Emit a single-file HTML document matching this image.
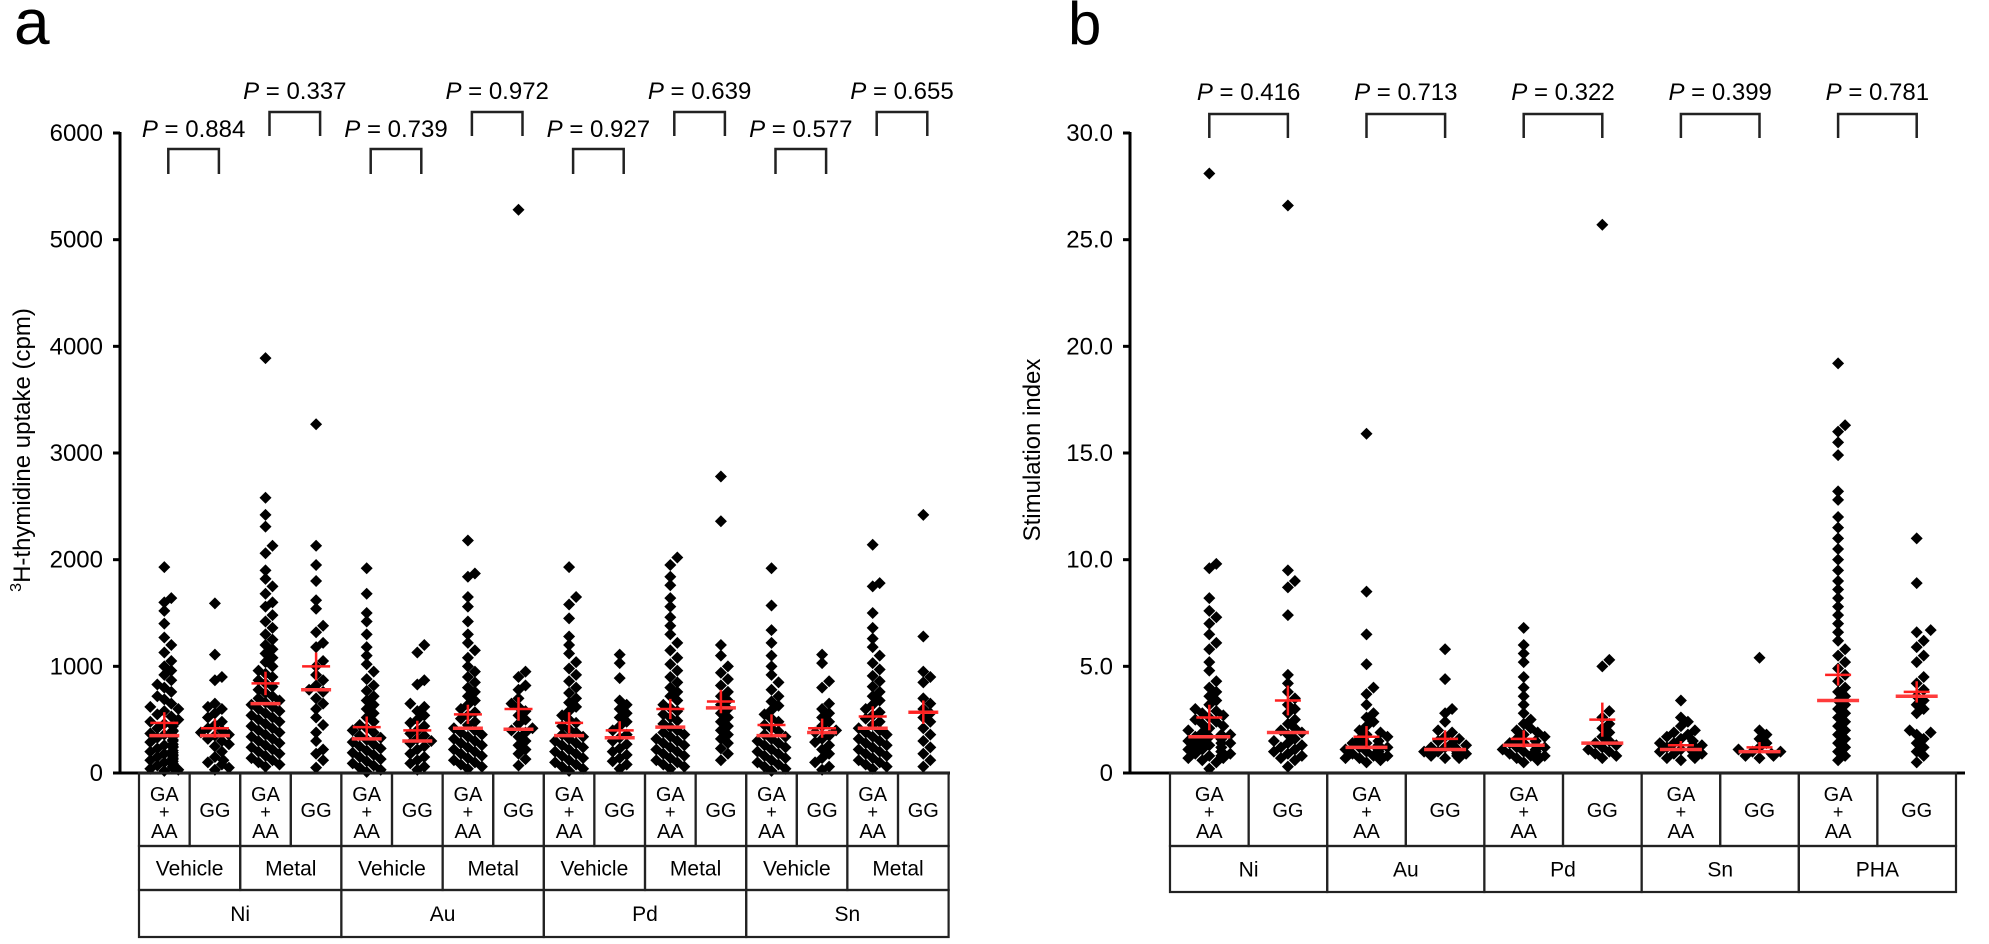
<!DOCTYPE html>
<html><head><meta charset="utf-8">
<style>
html,body{margin:0;padding:0;background:#fff;}
svg text{font-family:"Liberation Sans",Arial,sans-serif;fill:#000;}
</style></head>
<body>
<svg id="fig" width="1989" height="939" viewBox="0 0 1989 939" xmlns="http://www.w3.org/2000/svg">
<text x="14" y="44" font-size="64">a</text>
<text x="1068" y="44" font-size="60">b</text>
<g id="pa"></g>
<g id="pb"></g>
</svg>
<script>
// ---------- Panel a data ----------
const aTicks = [0,1000,2000,3000,4000,5000,6000];
const aGenotypes = ["GA+AA","GG","GA+AA","GG","GA+AA","GG","GA+AA","GG","GA+AA","GG","GA+AA","GG","GA+AA","GG","GA+AA","GG"];
const aTreatments = ["Vehicle","Metal","Vehicle","Metal","Vehicle","Metal","Vehicle","Metal"];
const aMetals = ["Ni","Au","Pd","Sn"];
const aPvalues = ["0.884","0.337","0.739","0.972","0.927","0.639","0.577","0.655"];
const aMeans = [470,420,840,1000,430,400,550,600,470,400,600,670,450,420,530,570];
const aSem = [100,90,110,130,100,90,90,110,100,85,95,110,100,90,95,110];
const aMedians = [350,350,650,780,320,300,420,410,350,330,430,610,350,380,420,570];
const aValues = [
[1930,1640,1600,1520,1400,1270,1200,1130,1050,1000,960,920,870,830,800,760,720,690,650,620,600,580,550,530,500,480,460,440,420,400,390,370,360,350,340,330,310,300,290,270,260,250,240,230,210,200,190,180,170,160,150,140,130,120,110,100,90,80,70,60,50,40,30,20],
[1590,1110,900,870,650,620,600,560,520,480,450,420,400,380,360,350,320,300,270,250,200,150,120,100,80,50,30],
[3890,2580,2420,2310,2130,2060,1900,1820,1750,1680,1600,1560,1480,1420,1360,1300,1250,1200,1160,1120,1080,1040,1000,960,930,900,870,840,810,780,750,720,700,680,660,640,620,600,580,560,540,520,500,480,460,440,420,400,380,360,340,320,300,280,260,240,220,200,180,160,140,120,100,80,60],
[3270,2130,1950,1800,1620,1540,1380,1320,1220,1180,1050,1000,920,870,820,780,760,700,650,600,520,450,380,300,220,180,120,50],
[1920,1680,1500,1420,1300,1180,1100,1020,950,880,820,770,720,680,640,600,560,520,480,450,420,400,380,350,330,310,290,270,250,230,210,190,170,150,130,110,90,70,50,30,10],
[1200,1130,870,830,650,620,580,540,500,470,440,400,370,350,320,300,280,250,220,180,150,120,90,60,30],
[2180,1870,1840,1650,1560,1420,1300,1220,1150,1080,1000,950,900,850,800,760,720,680,640,600,570,540,510,480,450,420,400,380,360,340,320,300,280,260,240,220,200,180,160,140,120,100,80,60,40],
[5280,950,900,820,780,700,650,620,580,540,500,460,420,400,380,340,300,260,220,180,130,70],
[1930,1650,1580,1450,1280,1200,1120,1040,980,920,860,800,750,700,660,620,580,540,500,470,440,410,380,360,340,320,300,280,260,240,220,200,180,160,140,120,100,80,60,40,20],
[1110,1030,890,680,640,600,560,520,480,440,400,360,330,300,270,230,200,170,140,110,80,40],
[2020,1950,1840,1760,1640,1560,1460,1380,1300,1220,1150,1080,1020,960,900,850,800,760,720,680,640,610,580,550,520,490,460,430,400,380,360,340,320,300,280,260,240,220,200,180,160,140,120,100,80,60,40],
[2780,2360,1200,1100,1000,940,880,820,760,720,680,640,600,560,520,480,440,400,360,320,280,230,180,120],
[1920,1570,1340,1220,1100,1000,920,850,780,720,670,630,590,550,510,480,450,420,390,360,340,320,300,280,260,240,220,200,180,160,140,120,100,80,60,40,20],
[1110,1030,860,800,650,600,560,520,480,440,400,380,350,320,290,260,220,180,140,100,60,30],
[2140,1780,1750,1500,1360,1260,1180,1100,1030,970,910,860,810,760,720,680,640,600,570,540,510,480,450,420,400,380,360,340,320,300,280,260,240,220,200,180,160,140,120,100,80,60,40],
[2420,1280,950,900,850,700,650,600,560,520,480,420,360,300,240,180,120,60]
];
// ---------- Panel b data ----------
const bTicks = [0,5,10,15,20,25,30];
const bGenotypes = ["GA+AA","GG","GA+AA","GG","GA+AA","GG","GA+AA","GG","GA+AA","GG"];
const bStimuli = ["Ni","Au","Pd","Sn","PHA"];
const bPvalues = ["0.416","0.713","0.322","0.399","0.781"];
const bMeans = [2.6,3.4,1.7,1.6,1.6,2.5,1.3,1.2,4.6,3.8];
const bSem = [0.6,0.7,0.5,0.4,0.4,0.8,0.2,0.25,0.5,0.5];
const bMedians = [1.7,1.9,1.2,1.1,1.3,1.4,1.1,1.0,3.4,3.6];
const bValues = [
[28.1,9.8,9.6,8.2,7.6,7.3,7.0,6.5,6.1,5.8,5.2,4.8,4.3,4.0,3.8,3.6,3.4,3.2,3.0,2.9,2.8,2.7,2.6,2.5,2.4,2.3,2.2,2.1,2.0,1.9,1.8,1.8,1.7,1.7,1.6,1.6,1.5,1.5,1.4,1.4,1.3,1.3,1.2,1.2,1.1,1.1,1.0,1.0,0.9,0.9,0.8,0.8,0.7,0.7,0.6,0.5,0.2],
[26.6,9.5,9.0,8.7,7.4,4.6,4.2,3.8,3.5,3.2,3.0,2.8,2.5,2.3,2.1,2.0,1.9,1.8,1.6,1.5,1.4,1.3,1.2,1.1,1.0,0.9,0.8,0.7,0.6,0.3],
[15.9,8.5,6.5,5.1,4.0,3.7,3.2,2.8,2.6,2.4,2.2,2.0,1.9,1.8,1.7,1.6,1.5,1.5,1.4,1.4,1.3,1.3,1.2,1.2,1.1,1.1,1.1,1.0,1.0,1.0,0.9,0.9,0.8,0.8,0.7,0.7,0.6,0.5],
[5.8,4.4,3.0,2.8,2.4,2.0,1.9,1.7,1.6,1.5,1.4,1.3,1.2,1.2,1.1,1.1,1.0,1.0,1.0,0.9,0.9,0.8,0.8,0.7,0.7],
[6.8,6.0,5.6,5.2,4.5,4.0,3.6,3.2,2.8,2.5,2.3,2.1,2.0,1.9,1.8,1.7,1.6,1.5,1.5,1.4,1.4,1.3,1.3,1.2,1.2,1.1,1.1,1.0,1.0,1.0,0.9,0.9,0.8,0.8,0.7,0.6,0.5],
[25.7,5.3,5.0,2.9,2.6,2.3,2.1,1.9,1.7,1.5,1.4,1.3,1.2,1.1,1.0,0.9,0.8,0.7],
[3.4,2.6,2.4,2.2,2.0,1.9,1.8,1.7,1.6,1.5,1.4,1.4,1.3,1.3,1.2,1.2,1.1,1.1,1.0,1.0,1.0,0.9,0.9,0.8,0.8,0.7,0.7,0.6],
[5.4,2.0,1.8,1.6,1.4,1.2,1.1,1.0,1.0,0.9,0.8,0.8,0.7],
[19.2,16.3,16.0,15.5,14.9,13.2,12.8,12.0,11.5,11.0,10.5,10.0,9.5,9.0,8.6,8.2,7.8,7.4,7.0,6.6,6.2,5.8,5.5,5.2,4.9,4.6,4.3,4.0,3.8,3.6,3.4,3.2,3.0,2.8,2.6,2.4,2.2,2.0,1.8,1.6,1.4,1.2,1.0,0.8,0.6],
[11.0,8.9,6.7,6.6,6.2,5.9,5.5,5.2,4.5,4.2,3.9,3.6,3.4,3.2,3.0,2.8,2.0,1.9,1.8,1.6,1.4,1.2,1.0,0.8,0.5]
];

const NS="http://www.w3.org/2000/svg";
function mk(parent,tag,attrs){const e=document.createElementNS(NS,tag);for(const k in attrs)e.setAttribute(k,attrs[k]);parent.appendChild(e);return e;}

function drawPanel(g,cfg){
  const y=v=>cfg.y0-(v-cfg.vmin)/(cfg.vmax-cfg.vmin)*(cfg.y0-cfg.y1);
  const colX=i=>cfg.tx+cfg.cw*(i+0.5);
  const ax=mk(g,'line',{x1:cfg.ax,y1:cfg.y1-1,x2:cfg.ax,y2:cfg.y0+1.5,stroke:'#000','stroke-width':3});
  
  
  const xa=mk(g,'line',{x1:cfg.ax,y1:cfg.y0,x2:cfg.xEnd,y2:cfg.y0,stroke:'#000','stroke-width':3});
  
  
  cfg.ticks.forEach(t=>{
    const tk=mk(g,'line',{x1:cfg.ax-7,y1:y(t),x2:cfg.ax,y2:y(t),stroke:'#000','stroke-width':3});
    
    
    const tl=mk(g,'text',{x:cfg.ax-17,y:y(t)+8,'font-size':24,'text-anchor':'end'});
    tl.textContent=cfg.fmt(t);
    
    
  });
  const yl=mk(g,'text',{x:0,y:0,'font-size':24,'text-anchor':'middle',transform:`translate(${cfg.ylx},${cfg.yly}) rotate(-90)`});
  yl.innerHTML=cfg.ylabel;
  
  
  cfg.values.forEach((vals,i)=>{
    const cx=colX(i);const placed=[];
    const sorted=vals.slice().sort((a,b)=>a-b);
    sorted.forEach(v=>{
      const py=y(v);let px=cx;
      for(let k=0;k<40;k++){
        const off=(k===0?0:(k%2?1:-1)*Math.ceil(k/2)*cfg.dx);
        if(Math.abs(off)>cfg.maxOff){px=cx+(k%2?1:-1)*cfg.maxOff*0.5;break;}
        const tx=cx+off;
        if(!placed.some(p=>Math.hypot(p[0]-tx,p[1]-py)<cfg.r)){px=tx;break;}
      }
      placed.push([px,py]);
      const s=cfg.ds;
      const d=mk(g,'polygon',{points:`${px},${py-s} ${px+s},${py} ${px},${py+s} ${px-s},${py}`,fill:'#000'});
      
      
    });
  });
  cfg.values.forEach((vals,i)=>{
    const cx=colX(i);
    const md=mk(g,'line',{x1:cx-cfg.mw,y1:y(cfg.medians[i]),x2:cx+cfg.mw,y2:y(cfg.medians[i]),stroke:'#ff3b3b','stroke-width':3.5});
    
    
    const mh=mk(g,'line',{x1:cx-cfg.cw2,y1:y(cfg.means[i]),x2:cx+cfg.cw2,y2:y(cfg.means[i]),stroke:'#ff2020','stroke-width':2.5});
    
    
    const eb=mk(g,'line',{x1:cx,y1:y(cfg.means[i]+cfg.sem[i]),x2:cx,y2:y(cfg.means[i]-cfg.sem[i]),stroke:'#ff2020','stroke-width':2.5});
    
    
  });
  cfg.rows.forEach((r,ri)=>{
    const span=r.span;let x=cfg.tx;
    r.labels.forEach(lab=>{
      const w=cfg.cw*span;
      const rc=mk(g,'rect',{x:x,y:r.y,width:w,height:r.h,fill:'none',stroke:'#222','stroke-width':2.2});
      
      
      const cxm=x+w/2;
      if(lab==="GA+AA"){
        [['GA',r.y+28],['+',r.y+45],['AA',r.y+65]].forEach(([t,yy])=>{
          const tt=mk(g,'text',{x:cxm,y:yy,'font-size':t==='+'?18:20,'text-anchor':'middle'});
          tt.textContent=t;
          
          
        });
      } else {
        const tt=mk(g,'text',{x:cxm,y:r.y+r.h/2+7.5,'font-size':r.fs,'text-anchor':'middle'});
        tt.textContent=lab;
        
        
      }
      x+=w;
    });
  });
  cfg.pvals.forEach((p,k)=>{
    const i=cfg.pCol(k);const x1=colX(i)+cfg.bo,x2=colX(i+1)+cfg.bo;
    const up=cfg.pUpper(k);
    const top=up?cfg.bUp[0]:cfg.bLow[0],bot=up?cfg.bUp[1]:cfg.bLow[1],base=up?cfg.bUp[2]:cfg.bLow[2];
    const br=mk(g,'polyline',{points:`${x1},${bot} ${x1},${top} ${x2},${top} ${x2},${bot}`,fill:'none',stroke:'#222','stroke-width':2.5});
    
    
    const t=mk(g,'text',{x:(x1+x2)/2,y:base,'font-size':24,'text-anchor':'middle'});
    t.innerHTML='<tspan font-style="italic">P</tspan> = '+p;
    
    
  });
}

drawPanel(document.getElementById('pa'),{
  ax:120,y0:773,y1:133,vmin:0,vmax:6000,xEnd:950,tx:139,cw:50.6,
  ticks:aTicks,fmt:t=>String(t),ylx:30,yly:450,
  ylabel:'<tspan font-size="16" dy="-9">3</tspan><tspan dy="9">H-thymidine uptake (cpm)</tspan>',
  values:aValues,means:aMeans,sem:aSem,medians:aMedians,
  dx:7,r:7.5,maxOff:17,ds:6,mw:15,cw2:14,
  rows:[{y:773,h:73,span:1,labels:aGenotypes,fs:20},{y:846,h:44,span:2,labels:aTreatments,fs:21},{y:890,h:47,span:4,labels:aMetals,fs:21}],
  pvals:aPvalues,pCol:k=>2*k,pUpper:k=>k%2===1,bo:4,
  bLow:[149,174,137],bUp:[112,136,99]
});
drawPanel(document.getElementById('pb'),{
  ax:1130,y0:773,y1:133,vmin:0,vmax:30,xEnd:1965,tx:1170,cw:78.6,
  ticks:bTicks,fmt:t=>t===0?'0':t.toFixed(1),ylx:1040,yly:450,
  ylabel:'Stimulation index',
  values:bValues,means:bMeans,sem:bSem,medians:bMedians,
  dx:7,r:7.5,maxOff:24,ds:6,mw:21,cw2:13,
  rows:[{y:773,h:73,span:1,labels:bGenotypes,fs:20},{y:846,h:46,span:2,labels:bStimuli,fs:21}],
  pvals:bPvalues,pCol:k=>2*k,pUpper:k=>false,bo:0,
  bLow:[114,138,100],bUp:[114,138,100]
});
</script>
</body></html>
